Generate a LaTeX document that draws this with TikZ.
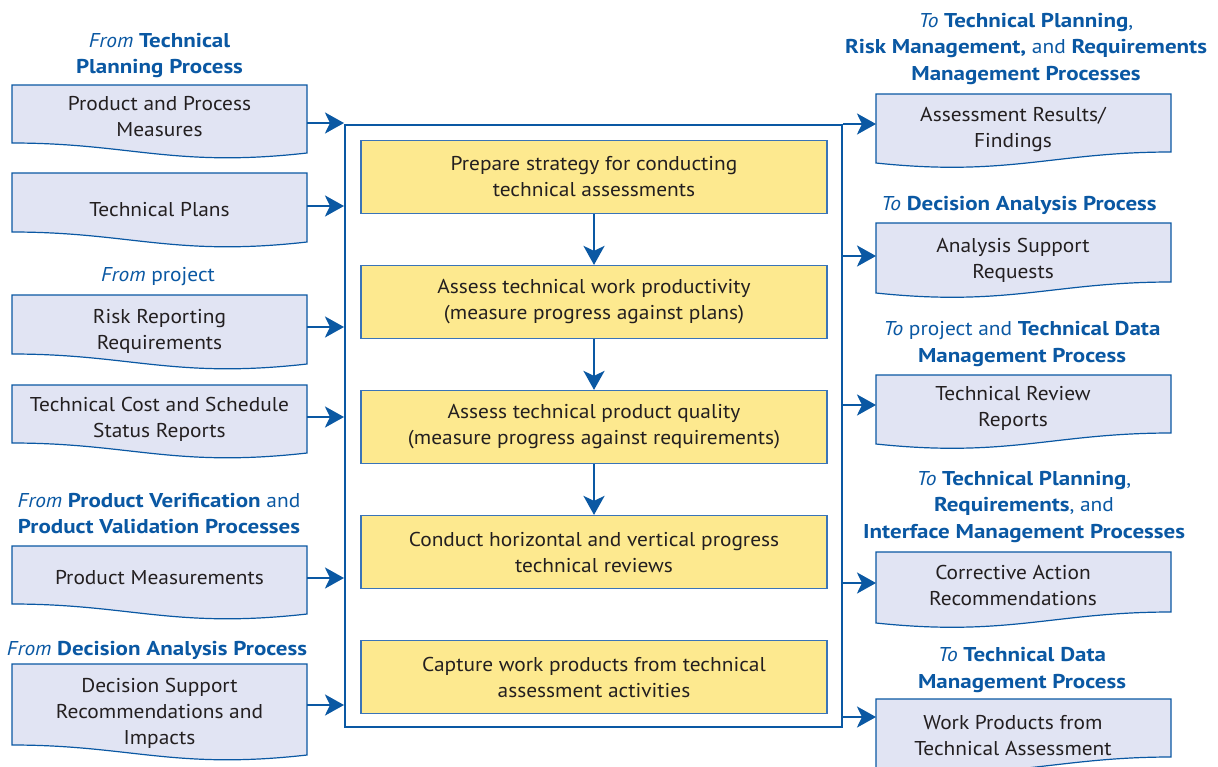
\documentclass[tikz,border=0pt]{standalone}
\usepackage{fontspec}
\setmainfont{PT Sans}[FakeStretch=1.07,
  BoldFeatures={FakeStretch=1.15},
  ItalicFeatures={FakeStretch=1.07},
  BoldItalicFeatures={FakeStretch=1.15}]
\usetikzlibrary{arrows.meta}
\definecolor{nblue}{HTML}{0A58A3}
\definecolor{docfill}{HTML}{E1E4F3}
\definecolor{stepfill}{HTML}{FDE98F}
\definecolor{stepline}{HTML}{3A74B8}
\definecolor{txt}{HTML}{231F20}
\tikzset{
  docshape/.style={draw=nblue, line width=1.2pt, fill=docfill},
  doctext/.style={align=center, inner sep=0pt, text=txt, font=\fontsize{20}{26}\selectfont},
  hdr/.style={align=center, inner sep=0pt, text=nblue, font=\fontsize{20}{26.5}\selectfont},
  mainbox/.style={draw=nblue, line width=2pt, minimum width=497pt, minimum height=602pt, inner sep=0pt},
  stepbox/.style={draw=stepline, line width=1.2pt, fill=stepfill, minimum width=466pt, minimum height=73pt, align=center, inner sep=0pt, text=txt, font=\fontsize{20}{26}\selectfont},
  arr/.style={draw=nblue, line width=2.6pt, -{Stealth[length=19pt,width=21pt,inset=5pt]}}
}
\newcommand\leftdoc[6]{%
  \path[docshape] (12,#2) -- (307,#2) -- (307,#3+10) .. controls (174.25,#3+25) and (130,#3) .. (12,#3) -- cycle;
  \node[doctext] (#1) at (159.5,#4) {#6};
  \coordinate (#1a) at (307,#5);
}
\newcommand\rightdoc[6]{%
  \path[docshape] (876,#2) -- (1171,#2) -- (1171,#3) .. controls (1053,#3) and (1008.75,#3+25) .. (876,#3+11) -- cycle;
  \node[doctext] (#1) at (1013,#4) {#6};
  \coordinate (#1a) at (876,#5);
}
\begin{document}
\begin{tikzpicture}[x=1pt,y=-1pt]
\clip (0,0) rectangle (1218,766);
\fill[white] (0,0) rectangle (1218,766);

% main box
\node[mainbox] (main) at (593.5,426) {};

% steps
\node[stepbox] (s1) at (594,177) {Prepare strategy for conducting\\technical assessments};
\node[stepbox] (s2) at (594,302) {Assess technical work productivity\\(measure progress against plans)};
\node[stepbox] (s3) at (594,427) {Assess technical product quality\\(measure progress against requirements)};
\node[stepbox] (s4) at (594,552) {Conduct horizontal and vertical progress\\technical reviews};
\node[stepbox] (s5) at (594,677) {Capture work products from technical\\assessment activities};
\draw[arr] (s1) -- (s2);
\draw[arr] (s2) -- (s3);
\draw[arr] (s3) -- (s4);

% left headers
\node[hdr] (h1) at (159.5,55.5) {\textit{From} \textbf{Technical}\\\textbf{Planning Process}};
\node[hdr] (h2) at (158,277) {\textit{From} project};
\node[hdr] (h3) at (159,513.5) {\textit{From} \textbf{Product Verification} and\\\textbf{Product Validation Processes}};
\node[hdr] (h4) at (157,650) {\textit{From} \textbf{Decision Analysis Process}};

% left docs
\leftdoc{d1}{85}{143}{117}{123}{Product and Process\\Measures}
\leftdoc{d2}{173}{232}{210}{206}{Technical Plans}
\leftdoc{d3}{295}{354}{331.5}{327}{Risk Reporting\\Requirements}
\leftdoc{d4}{385}{443}{419.5}{417}{Technical Cost and Schedule\\Status Reports}
\leftdoc{d5}{546}{604}{577.5}{578}{Product Measurements}
\leftdoc{d6}{664}{745}{713}{705}{Decision Support\\Recommendations and\\Impacts}
\foreach \n in {d1,d2,d3,d4,d5,d6} \draw[arr] (\n a) -- (main.west |- \n a);

% right headers
\node[hdr] (r1) at (1026,49) {\textit{To} \textbf{Technical Planning},\\\textbf{Risk Management,} and \textbf{Requirements}\\\textbf{Management Processes}};
\node[hdr] (r2) at (1019,205) {\textit{To} \textbf{Decision Analysis Process}};
\node[hdr] (r3) at (1022,344) {\textit{To} project and \textbf{Technical Data}\\\textbf{Management Process}};
\node[hdr] (r4) at (1024,507) {\textit{To} \textbf{Technical Planning},\\\textbf{Requirements}, and\\\textbf{Interface Management Processes}};
\node[hdr] (r5) at (1022,670) {\textit{To} \textbf{Technical Data}\\\textbf{Management Process}};

% right docs
\rightdoc{o1}{94}{152}{129}{124}{Assessment Results/\\Findings}
\rightdoc{o2}{223}{282}{260}{256}{Analysis Support\\Requests}
\rightdoc{o3}{375}{433}{408}{405}{Technical Review\\Reports}
\rightdoc{o4}{552}{612}{585}{583}{Corrective Action\\Recommendations}
\rightdoc{o5}{699}{757}{736}{717}{Work Products from\\Technical Assessment}
\foreach \n in {o1,o2,o3,o4,o5} \draw[arr] (main.east |- \n a) -- (\n a);
\end{tikzpicture}
\end{document}
